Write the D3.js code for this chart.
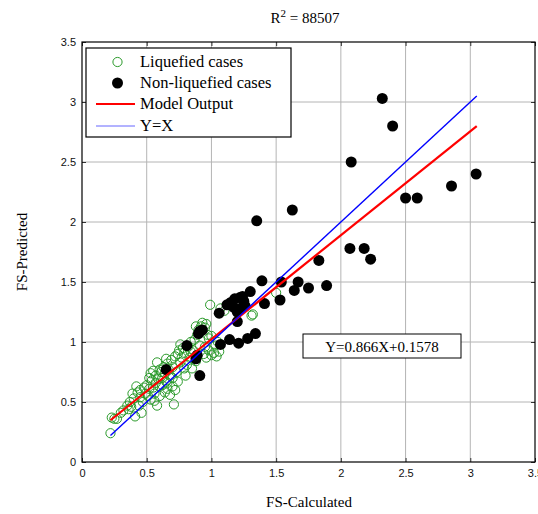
<!DOCTYPE html>
<html>
<head>
<meta charset="utf-8">
<script src="https://cdn.jsdelivr.net/npm/d3@7"></script>
<style>
  body { margin: 0; background: #fff; }
  svg { display: block; }
</style>
</head>
<body>
<script>
// tick values for both axes
var xTicks = [0, 0.5, 1, 1.5, 2, 2.5, 3, 3.5];
var yTicks = [0, 0.5, 1, 1.5, 2, 2.5, 3, 3.5];

// liquefied cases (open green circles)
var liqX = [0.22,0.23,0.25,0.27,0.30,0.32,0.35,0.36,0.38,0.41,0.46,0.37,0.40,0.39,0.43,0.45,0.45,0.47,
  0.48,0.50,0.52,0.54,0.51,0.53,0.56,0.58,0.55,0.57,0.60,0.62,0.64,0.65,0.66,0.68,0.70,0.72,0.71,
  0.53,0.55,0.57,0.60,0.63,0.64,0.66,0.67,0.69,0.70,0.72,0.73,0.74,0.75,0.76,0.78,0.79,0.80,0.81,
  0.82,0.83,0.84,0.85,0.86,0.87,0.88,0.90,0.92,0.93,0.95,0.96,0.97,0.94,0.96,0.98,1.00,1.02,1.04,
  1.06,0.99,1.07,1.10,1.31,1.32,1.50,1.53,0.98,1.00,0.91,0.89,0.70,0.74,0.62,0.58,
  0.44,0.49,0.52,0.59,0.61,0.65,0.68,0.77,0.79,0.84,0.76,0.66,0.56,0.60,0.42,0.88,1.03,1.05,0.95];
var liqY = [0.24,0.37,0.36,0.36,0.41,0.43,0.47,0.44,0.46,0.38,0.41,0.50,0.53,0.57,0.58,0.54,0.60,0.50,
  0.62,0.64,0.61,0.68,0.55,0.52,0.57,0.47,0.62,0.66,0.63,0.64,0.58,0.67,0.61,0.56,0.63,0.60,0.48,
  0.74,0.76,0.72,0.77,0.79,0.74,0.82,0.77,0.85,0.79,0.88,0.75,0.90,0.93,0.83,0.95,0.91,0.72,0.81,
  0.96,0.87,1.00,0.78,0.93,1.02,0.84,1.10,1.13,1.16,1.12,1.15,1.06,0.90,0.87,0.93,0.89,0.91,0.88,
  0.92,1.31,1.28,1.26,1.22,1.23,1.41,1.35,1.03,1.05,0.97,1.06,0.70,0.67,0.70,0.83,
  0.47,0.57,0.70,0.69,0.75,0.86,0.72,0.87,0.78,0.92,0.98,0.66,0.51,0.55,0.63,1.13,0.97,1.00,0.96];

// non-liquefied cases (filled black circles)
var nonX = [2.32,2.40,2.08,3.045,2.855,2.50,2.59,1.625,1.35,2.07,2.18,2.23,1.83,1.39,1.54,1.67,1.64,
  1.75,1.89,1.53,1.41,1.30,1.06,1.20,0.91,0.90,0.81,1.07,1.14,1.21,1.28,1.34,0.89,0.91,0.65,
  1.15,1.18,1.22,1.25,1.17,1.22,1.12,1.20,1.26,1.24,0.93,0.88];
var nonY = [3.03,2.80,2.50,2.40,2.30,2.20,2.20,2.10,2.01,1.78,1.78,1.69,1.68,1.51,1.50,1.50,1.43,
  1.45,1.47,1.35,1.32,1.42,1.24,1.17,1.09,1.07,0.97,0.98,1.02,0.99,1.03,1.07,0.89,0.72,0.77,
  1.33,1.36,1.37,1.34,1.29,1.28,1.31,1.25,1.30,1.38,1.10,0.86];

// fitted model line and Y=X line (end points)
var modelX = [0.22, 3.05];
var modelY = [0.348, 2.799];
var identX = [0.22, 3.05];
var identY = [0.22, 3.05];

var legendLabels = ["Liquefied cases", "Non-liquefied cases", "Model Output", "Y=X"];
var equationText = "Y=0.866X+0.1578";

var width = 538, height = 514;
var serif = "'Liberation Serif','Times New Roman',serif";
var sans = "'Liberation Sans',Arial,sans-serif";

var svg = d3.select("body").append("svg")
  .attr("width", width)
  .attr("height", height);

var x = d3.scaleLinear().domain([0, 3.5]).range([82, 535]);
var y = d3.scaleLinear().domain([0, 3.5]).range([462, 42]);

// grid lines
svg.append("g").selectAll("line").data(xTicks.slice(1, -1)).enter().append("line")
  .attr("x1", d => x(d)).attr("x2", d => x(d))
  .attr("y1", y(0)).attr("y2", y(3.5))
  .attr("stroke", "#b4b4b4").attr("stroke-width", 1);
svg.append("g").selectAll("line").data(yTicks.slice(1, -1)).enter().append("line")
  .attr("y1", d => y(d)).attr("y2", d => y(d))
  .attr("x1", x(0)).attr("x2", x(3.5))
  .attr("stroke", "#b4b4b4").attr("stroke-width", 1);

// axes, ticks pointing inwards like matlab
var axBottom = svg.append("g").attr("transform", "translate(0," + y(0) + ")")
  .call(d3.axisBottom(x).tickValues(xTicks).tickSize(-4).tickPadding(7).tickFormat(d3.format("")));
var axTop = svg.append("g").attr("transform", "translate(0," + y(3.5) + ")")
  .call(d3.axisTop(x).tickValues(xTicks).tickSize(-4).tickFormat(""));
var axLeft = svg.append("g").attr("transform", "translate(" + x(0) + ",0)")
  .call(d3.axisLeft(y).tickValues(yTicks).tickSize(-4).tickPadding(6).tickFormat(d3.format("")));
var axRight = svg.append("g").attr("transform", "translate(" + x(3.5) + ",0)")
  .call(d3.axisRight(y).tickValues(yTicks).tickSize(-4).tickFormat(""));

[axBottom, axTop, axLeft, axRight].forEach(function(a) {
  a.select(".domain").remove();
  a.selectAll("line").attr("stroke", "#333");
  a.selectAll("text").attr("font-family", sans).attr("font-size", 11).attr("fill", "#111");
});

// box round the plot
svg.append("rect")
  .attr("x", x(0)).attr("y", y(3.5))
  .attr("width", x(3.5) - x(0)).attr("height", y(0) - y(3.5))
  .attr("fill", "none").attr("stroke", "#000").attr("stroke-width", 1.2);

// points
svg.append("g").selectAll("circle").data(liqX).enter().append("circle")
  .attr("cx", (d, i) => x(d)).attr("cy", (d, i) => y(liqY[i]))
  .attr("r", 4.6)
  .attr("fill", "none").attr("stroke", "#2a9a2a").attr("stroke-width", 1);

svg.append("g").selectAll("circle").data(nonX).enter().append("circle")
  .attr("cx", (d, i) => x(d)).attr("cy", (d, i) => y(nonY[i]))
  .attr("r", 5.5)
  .attr("fill", "#000");

// lines
var line = d3.line().x(d => x(d[0])).y(d => y(d[1]));
svg.append("path")
  .attr("d", line(d3.zip(modelX, modelY)))
  .attr("stroke", "#f00").attr("stroke-width", 2.2).attr("fill", "none");
svg.append("path")
  .attr("d", line(d3.zip(identX, identY)))
  .attr("stroke", "#0000ff").attr("stroke-width", 1.4).attr("fill", "none");

// legend
var leg = svg.append("g");
leg.append("rect")
  .attr("x", 86).attr("y", 48).attr("width", 205).attr("height", 89)
  .attr("fill", "#fff").attr("stroke", "#000").attr("stroke-width", 1.2);
var rowY = [62, 83, 104, 126];
leg.append("circle").attr("cx", 117.5).attr("cy", rowY[0]).attr("r", 4.6)
  .attr("fill", "none").attr("stroke", "#2a9a2a").attr("stroke-width", 1);
leg.append("circle").attr("cx", 117.5).attr("cy", rowY[1]).attr("r", 5.5).attr("fill", "#000");
leg.append("line").attr("x1", 96).attr("x2", 135).attr("y1", rowY[2]).attr("y2", rowY[2])
  .attr("stroke", "#f00").attr("stroke-width", 2);
leg.append("line").attr("x1", 96).attr("x2", 135).attr("y1", rowY[3]).attr("y2", rowY[3])
  .attr("stroke", "#6666ff").attr("stroke-width", 1);
leg.selectAll("text.lab").data(legendLabels).enter().append("text")
  .attr("class", "lab")
  .attr("x", 140).attr("y", (d, i) => rowY[i] + 5)
  .style("font-family", serif).style("font-size", "16.5px")
  .text(d => d);

// equation box
svg.append("rect")
  .attr("x", 303).attr("y", 334).attr("width", 158).attr("height", 24)
  .attr("fill", "#fff").attr("stroke", "#000").attr("stroke-width", 1);
svg.append("text")
  .attr("x", 382).attr("y", 351.5).attr("text-anchor", "middle")
  .style("font-family", serif).style("font-size", "15px")
  .text(equationText);

// title and axis labels
var title = svg.append("text")
  .attr("x", 305).attr("y", 23).attr("text-anchor", "middle")
  .style("font-family", serif).style("font-size", "15px");
title.append("tspan").text("R");
title.append("tspan").attr("dy", -6).style("font-size", "11px").text("2");
title.append("tspan").attr("dy", 6).text(" = 88507");

svg.append("text")
  .attr("x", 309).attr("y", 507).attr("text-anchor", "middle")
  .style("font-family", serif).style("font-size", "15px")
  .text("FS-Calculated");
svg.append("text")
  .attr("transform", "translate(27,252)rotate(-90)").attr("text-anchor", "middle")
  .style("font-family", serif).style("font-size", "15px")
  .text("FS-Predicted");
</script>
</body>
</html>
